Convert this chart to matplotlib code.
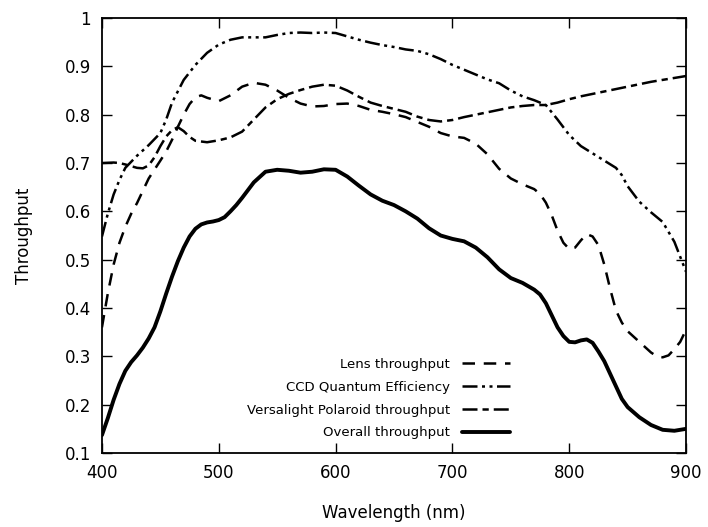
import matplotlib
matplotlib.use("Agg")
import matplotlib.pyplot as plt
from matplotlib.ticker import FuncFormatter, MultipleLocator

# Lens throughput
wl_lens = [400, 405, 410, 415, 420, 425, 430, 440, 450, 455, 460, 465, 470, 475, 480, 485, 490, 500,
           510, 520, 530, 540, 550, 560, 570, 580, 590, 600, 610, 620, 630, 640, 650, 660, 670, 680,
           690, 700, 710, 720, 730, 740, 750, 760, 770, 775, 780, 785, 790, 795, 800, 805, 810, 815,
           820, 825, 830, 835, 840, 845, 850, 860, 870, 875, 880, 885, 890, 895, 900]
lens = [0.36, 0.43, 0.49, 0.535, 0.568, 0.595, 0.617, 0.668, 0.705, 0.724, 0.748, 0.775, 0.80, 0.822,
        0.836, 0.84, 0.835, 0.828, 0.84, 0.858, 0.866, 0.862, 0.85, 0.835, 0.823, 0.817, 0.818,
        0.822, 0.823, 0.818, 0.81, 0.806, 0.801, 0.795, 0.785, 0.775, 0.762, 0.755, 0.752, 0.74,
        0.718, 0.688, 0.668, 0.656, 0.646, 0.636, 0.618, 0.592, 0.56, 0.535, 0.522, 0.525, 0.54,
        0.553, 0.548, 0.53, 0.49, 0.44, 0.395, 0.37, 0.352, 0.33, 0.308, 0.30, 0.298, 0.302, 0.315,
        0.33, 0.355]

# CCD quantum efficiency
wl_qe = [400, 405, 410, 415, 420, 430, 440, 450, 455, 460, 470, 480, 490, 500, 510, 520, 530, 540,
         550, 560, 570, 580, 590, 600, 610, 620, 630, 640, 650, 660, 670, 680, 690, 700, 710, 720,
         730, 740, 750, 760, 770, 780, 790, 800, 810, 820, 830, 840, 845, 850, 860, 870, 880, 890, 900]
ccd_qe = [0.548, 0.595, 0.635, 0.665, 0.69, 0.715, 0.737, 0.762, 0.79, 0.825, 0.872, 0.903, 0.928,
          0.945, 0.955, 0.96, 0.96, 0.96, 0.965, 0.969, 0.97, 0.969, 0.97, 0.969, 0.962, 0.955,
          0.949, 0.944, 0.94, 0.935, 0.932, 0.925, 0.915, 0.903, 0.893, 0.883, 0.873, 0.865, 0.85,
          0.838, 0.83, 0.82, 0.79, 0.758, 0.735, 0.72, 0.705, 0.69, 0.675, 0.652, 0.62, 0.598,
          0.578, 0.537, 0.475]

# Versalight Polaroid throughput
wl_pol = [400, 410, 415, 420, 430, 435, 440, 445, 450, 455, 460, 465, 470, 475, 480, 490, 500, 510,
          520, 530, 540, 550, 560, 570, 580, 590, 600, 610, 620, 630, 640, 650, 660, 670, 680, 690,
          700, 710, 720, 730, 740, 750, 760, 770, 780, 790, 800, 810, 820, 830, 840, 850, 860, 870,
          880, 890, 900]
polaroid = [0.70, 0.701, 0.70, 0.697, 0.69, 0.689, 0.695, 0.712, 0.735, 0.755, 0.768, 0.774, 0.766,
            0.754, 0.746, 0.743, 0.747, 0.753, 0.765, 0.79, 0.815, 0.832, 0.843, 0.851, 0.858, 0.862,
            0.86, 0.85, 0.837, 0.825, 0.818, 0.812, 0.806, 0.796, 0.789, 0.786, 0.789, 0.795, 0.80,
            0.805, 0.81, 0.815, 0.818, 0.82, 0.82, 0.825, 0.832, 0.838, 0.843, 0.848, 0.853, 0.858,
            0.863, 0.868, 0.872, 0.876, 0.88]

# Overall throughput
wl_all = [400, 405, 410, 415, 420, 425, 430, 435, 440, 445, 450, 455, 460, 465, 470, 475, 480, 485,
          490, 495, 500, 505, 510, 515, 520, 530, 540, 550, 560, 570, 580, 590, 600, 610, 620, 630,
          640, 650, 660, 670, 680, 690, 700, 710, 720, 730, 740, 750, 760, 770, 775, 780, 785, 790,
          795, 800, 805, 810, 815, 820, 825, 830, 840, 845, 850, 860, 870, 880, 890, 900]
overall = [0.137, 0.172, 0.21, 0.243, 0.27, 0.288, 0.302, 0.318, 0.337, 0.36, 0.393, 0.43, 0.465,
           0.497, 0.525, 0.548, 0.564, 0.573, 0.577, 0.579, 0.582, 0.588, 0.60, 0.613, 0.628, 0.66,
           0.682, 0.686, 0.684, 0.68, 0.682, 0.687, 0.686, 0.672, 0.653, 0.635, 0.622, 0.613, 0.60,
           0.585, 0.565, 0.55, 0.543, 0.538, 0.525, 0.505, 0.48, 0.462, 0.452, 0.438, 0.428, 0.41,
           0.385, 0.36, 0.342, 0.33, 0.329, 0.333, 0.335, 0.328, 0.31, 0.29, 0.238, 0.212, 0.195,
           0.174, 0.158, 0.148, 0.146, 0.15]

labels = ["Lens throughput", "CCD Quantum Efficiency", "Versalight Polaroid throughput",
          "Overall throughput"]

fig = plt.figure(figsize=(7.08, 5.27), dpi=100)
ax = fig.add_axes([0.144, 0.1404, 0.825, 0.8254])

lw = 1.8
ax.plot(wl_lens, lens, color="black", lw=lw, linestyle=(0, (5, 3.5)), label=labels[0],
        solid_joinstyle="round", dash_joinstyle="round")
ax.plot(wl_qe, ccd_qe, color="black", lw=lw, linestyle=(0, (6, 1.8, 1.2, 1.8, 1.2, 1.8)),
        label=labels[1], dash_joinstyle="round")
ax.plot(wl_pol, polaroid, color="black", lw=lw, linestyle=(0, (6, 2, 2.5, 2)), label=labels[2],
        dash_joinstyle="round")
ax.plot(wl_all, overall, color="black", lw=2.8, linestyle="-", label=labels[3],
        solid_joinstyle="round", solid_capstyle="round")

ax.set_xlim(400, 900)
ax.set_ylim(0.1, 1.0)
ax.xaxis.set_major_locator(MultipleLocator(100))
ax.yaxis.set_major_locator(MultipleLocator(0.1))
ax.yaxis.set_major_formatter(FuncFormatter(lambda v, p: "1" if abs(v - 1) < 1e-9 else f"{v:.1f}"))
ax.tick_params(direction="in", top=True, right=True, length=7, width=1, labelsize=12, pad=8)
for s in ax.spines.values():
    s.set_linewidth(1.3)

ax.set_xlabel("Wavelength (nm)", fontsize=12, labelpad=16)
ax.set_ylabel("Throughput", fontsize=12, labelpad=23)

leg = ax.legend(loc="lower right", bbox_to_anchor=(0.715, 0.01), frameon=False, markerfirst=False,
                fontsize=9.5, handlelength=3.7, handletextpad=0.9, labelspacing=0.75,
                borderaxespad=0.3)
try:
    for vp in leg._legend_handle_box.get_children():
        vp.align = "right"
except Exception:
    pass

fig.savefig("out.png", dpi=100)
